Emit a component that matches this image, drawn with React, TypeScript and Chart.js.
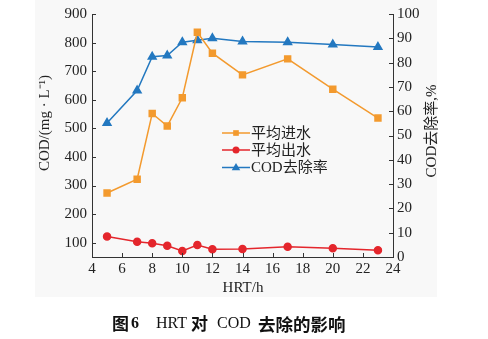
import React, { useEffect, useRef } from "react";
import { Chart, registerables } from "chart.js";

Chart.register(...registerables);

const hrt = [5, 7, 8, 9, 10, 11, 12, 14, 17, 20, 23];
const inlet = [274, 322, 552, 508, 607, 836, 763, 687, 743, 637, 536];
const effluent = [122, 103, 98, 89, 71, 92, 77, 78, 86, 81, 74];
const removal = [55.1, 68.5, 82.4, 82.9, 88.4, 89.2, 90.0, 88.7, 88.4, 87.4, 86.4];

const leftTicks = [100, 200, 300, 400, 500, 600, 700, 800, 900];
const rightTicks = [0, 10, 20, 30, 40, 50, 60, 70, 80, 90, 100];
const xTicks = [4, 6, 8, 10, 12, 14, 16, 18, 20, 22, 24];

const seriesNames = ["平均进水", "平均出水", "COD去除率"];
const leftTitle = "COD/(mg · L⁻¹)";
const rightTitle = "COD去除率,%";
const xTitle = "HRT/h";

const ORANGE = "#F39A2E";
const RED = "#E4262C";
const BLUE = "#2378C0";
const AXIS = "#333333";
const FONT = '"Liberation Serif", "Noto Sans CJK SC", serif';

function drawMarker(ctx: CanvasRenderingContext2D, style: string, x: number, y: number, r: number, color: string) {
  ctx.save();
  ctx.fillStyle = color;
  ctx.beginPath();
  if (style === "rect") {
    const s = r * Math.SQRT1_2;
    ctx.rect(x - s, y - s, 2 * s, 2 * s);
  } else if (style === "circle") {
    ctx.arc(x, y, r, 0, Math.PI * 2);
  } else {
    ctx.moveTo(x, y - r);
    ctx.lineTo(x + r * 0.95, y + r * 0.6);
    ctx.lineTo(x - r * 0.95, y + r * 0.6);
    ctx.closePath();
  }
  ctx.fill();
  ctx.restore();
}

const decorPlugin = {
  id: "decor",
  beforeDraw(chart: any) {
    const ctx = chart.ctx as CanvasRenderingContext2D;
    ctx.save();
    ctx.fillStyle = "#ffffff";
    ctx.fillRect(0, 0, chart.width, chart.height);
    ctx.fillStyle = "#f8f8f8";
    ctx.fillRect(35, 0, 402, 297);
    ctx.restore();
  },
  afterDraw(chart: any) {
    const ctx = chart.ctx as CanvasRenderingContext2D;
    const area = chart.chartArea;
    const xs = chart.scales.x;
    const yl = chart.scales.y;
    const yr = chart.scales.y1;
    ctx.save();
    ctx.strokeStyle = AXIS;
    ctx.lineWidth = 1;
    const tl = 4;
    ctx.beginPath();
    xs.ticks.forEach((t: any) => {
      const px = Math.round(xs.getPixelForValue(t.value)) + 0.5;
      ctx.moveTo(px, area.bottom);
      ctx.lineTo(px, area.bottom - tl);
    });
    yl.ticks.forEach((t: any) => {
      const py = Math.round(yl.getPixelForValue(t.value)) + 0.5;
      ctx.moveTo(area.left, py);
      ctx.lineTo(area.left + tl, py);
    });
    yr.ticks.forEach((t: any) => {
      const py = Math.round(yr.getPixelForValue(t.value)) + 0.5;
      ctx.moveTo(area.right, py);
      ctx.lineTo(area.right - tl, py);
    });
    ctx.stroke();

    // axis titles
    ctx.fillStyle = "#222";
    ctx.font = "15px " + FONT;
    ctx.textAlign = "center";
    ctx.textBaseline = "middle";
    ctx.fillText(xTitle, 243, 288);
    ctx.save();
    ctx.translate(45, 123);
    ctx.rotate(-Math.PI / 2);
    ctx.fillText(leftTitle, 0, 0);
    ctx.restore();
    ctx.save();
    ctx.translate(432, 131);
    ctx.rotate(-Math.PI / 2);
    ctx.fillText(rightTitle, 0, 0);
    ctx.restore();

    // legend
    const colors = [ORANGE, RED, BLUE];
    const styles = ["rect", "circle", "triangle"];
    const radii = [4, 3.5, 4.5];
    const ys = [133, 150, 167.5];
    ctx.textAlign = "left";
    ctx.font = '15px "Liberation Serif", "Noto Sans CJK SC"';
    seriesNames.forEach((name, i) => {
      ctx.strokeStyle = colors[i];
      ctx.lineWidth = 1.5;
      ctx.beginPath();
      ctx.moveTo(222, ys[i]);
      ctx.lineTo(250, ys[i]);
      ctx.stroke();
      drawMarker(ctx, styles[i], 236, ys[i], radii[i], colors[i]);
      ctx.fillStyle = "#222";
      ctx.fillText(name, 251, ys[i] + 1);
    });

    // caption
    ctx.fillStyle = "#111";
    ctx.textBaseline = "middle";
    const cy = 324;
    const cjk = 'bold 17px "Noto Sans CJK SC"';
    const lat = '16px "Liberation Serif"';
    const segs: [string, number, string][] = [
      ["图", 112, cjk],
      ["6", 131, 'bold 16px "Liberation Serif"'],
      ["HRT", 156, lat],
      ["对", 191, cjk],
      ["COD", 217, lat],
      ["去除的影响", 258, 'bold 17.5px "Noto Sans CJK SC"'],
    ];
    segs.forEach(([s, x, f]) => {
      ctx.font = f;
      ctx.fillText(s, x, cy);
    });
    ctx.restore();
  },
};

export default function App() {
  const ref = useRef<HTMLCanvasElement | null>(null);
  useEffect(() => {
    document.body.style.margin = "0";
    const canvas = ref.current!;
    const tickFont = { family: FONT, size: 15 };
    const setTicks = (vals: number[]) => (s: any) => {
      s.ticks = vals.map((v) => ({ value: v }));
    };
    const chart = new Chart(canvas, {
      type: "line",
      data: {
        datasets: [
          {
            label: seriesNames[0],
            data: hrt.map((x, i) => ({ x, y: inlet[i] })),
            borderColor: ORANGE,
            backgroundColor: ORANGE,
            pointStyle: "rect",
            pointRadius: 4.2,
            borderWidth: 1.5,
            yAxisID: "y",
          },
          {
            label: seriesNames[1],
            data: hrt.map((x, i) => ({ x, y: effluent[i] })),
            borderColor: RED,
            backgroundColor: RED,
            pointStyle: "circle",
            pointRadius: 3.5,
            borderWidth: 1.5,
            yAxisID: "y",
          },
          {
            label: seriesNames[2],
            data: hrt.map((x, i) => ({ x, y: removal[i] })),
            borderColor: BLUE,
            backgroundColor: BLUE,
            pointStyle: "triangle",
            pointRadius: 4.5,
            borderWidth: 1.5,
            yAxisID: "y1",
          },
        ],
      },
      options: {
        responsive: false,
        animation: false,
        devicePixelRatio: 1,
        layout: { padding: { top: 13, left: 0, right: 0, bottom: 0 } },
        plugins: { legend: { display: false }, tooltip: { enabled: false } },
        elements: { line: { tension: 0 }, point: { borderWidth: 0 } },
        scales: {
          x: {
            type: "linear",
            min: 4,
            max: 24,
            afterBuildTicks: setTicks(xTicks),
            ticks: { font: tickFont, color: "#222", padding: 3, maxRotation: 0 },
            grid: { display: false, drawTicks: false },
            border: { display: true, color: AXIS, width: 1 },
            afterFit: (s: any) => {
              s.height = 82;
            },
          },
          y: {
            type: "linear",
            position: "left",
            min: 50,
            max: 900,
            afterBuildTicks: setTicks(leftTicks),
            ticks: { font: tickFont, color: "#222", padding: 5 },
            grid: { display: false, drawTicks: false },
            border: { display: true, color: AXIS, width: 1 },
            afterFit: (s: any) => {
              s.width = 92;
            },
          },
          y1: {
            type: "linear",
            position: "right",
            min: 0,
            max: 100,
            afterBuildTicks: setTicks(rightTicks),
            ticks: { font: tickFont, color: "#222", padding: 4 },
            grid: { display: false, drawTicks: false },
            border: { display: true, color: AXIS, width: 1 },
            afterFit: (s: any) => {
              s.width = 95;
            },
          },
        },
      },
      plugins: [decorPlugin],
    } as any);
    return () => chart.destroy();
  }, []);
  return (
    <div style={{ position: "fixed", left: 0, top: 0, width: 488, height: 339 }}>
      <canvas ref={ref} width={488} height={339} style={{ width: 488, height: 339, display: "block" }} />
    </div>
  );
}
